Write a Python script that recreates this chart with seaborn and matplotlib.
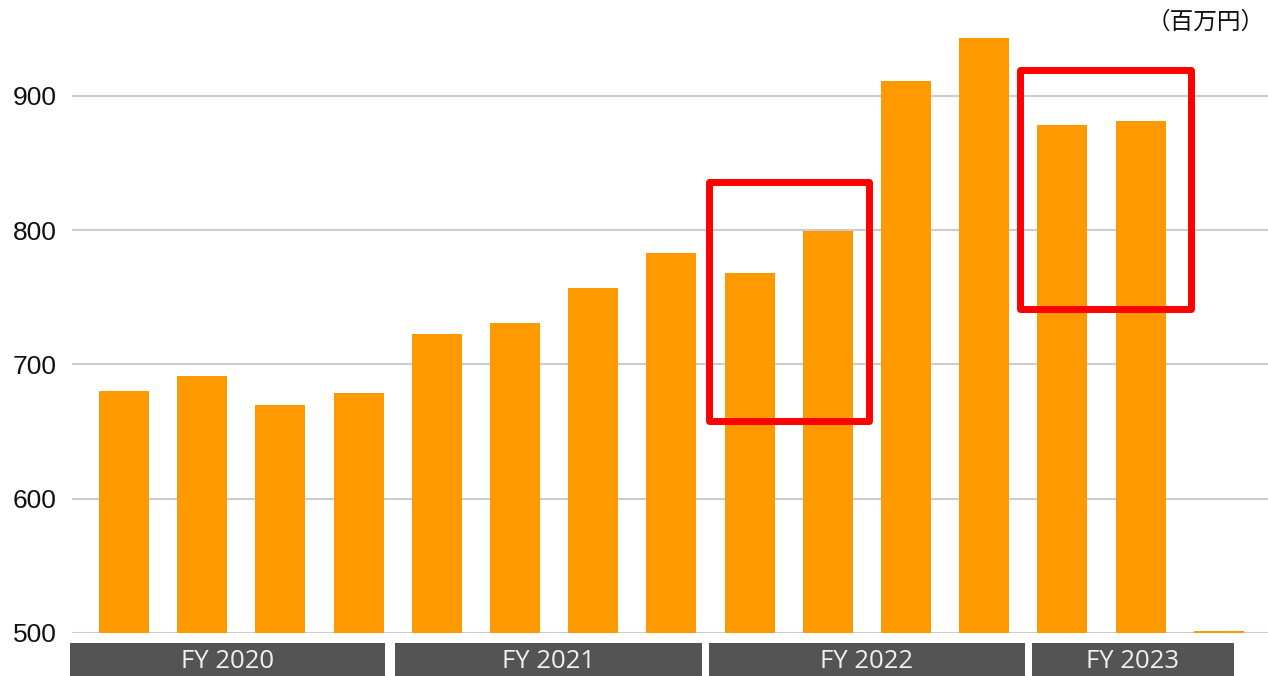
import matplotlib
matplotlib.use("Agg")
import matplotlib.pyplot as plt
import matplotlib.transforms as mtransforms
from matplotlib.patches import Rectangle
import seaborn as sns
import pandas as pd

# ---- data ----
quarters = [f"Q{i}" for i in range(1, 16)]
values = [680, 691, 670, 679, 723, 731, 757, 783, 768, 799, 911, 943, 878, 881, 501.5]
fy_labels = ["FY 2020", "FY 2021", "FY 2022", "FY 2023"]
fy_start = [-0.69, 3.47, 7.48, 11.61]
fy_end = [3.34, 7.39, 11.52, 14.19]
yticks = [500, 600, 700, 800, 900]
# highlight boxes: (x0, x1, y0, y1) in data units
hl_x0 = [7.48, 11.46]
hl_x1 = [9.53, 13.64]
hl_y0 = [658, 741]
hl_y1 = [836, 919]
unit_label = "（百万円）"

sns.set_theme(style="white")
plt.rcParams['font.family'] = ['Liberation Sans', 'Noto Sans CJK JP', 'DejaVu Sans']

fig = plt.figure(figsize=(12.68, 6.76), dpi=100)
ax = fig.add_axes([72/1268, 43/676, 1 - 72/1268, (633 - 3)/676])

df = pd.DataFrame({"q": quarters, "v": values})
sns.barplot(data=df, x="q", y="v", color="#FF9900", saturation=1, width=0.64, ax=ax,
            zorder=3, edgecolor="none", linewidth=0)

ax.set_ylim(500, 500 + 630/1.343)
ax.set_xlim(-0.665, 14.63)
ax.set_yticks(yticks)
ax.set_yticklabels([str(t) for t in yticks], fontsize=19, color="#111111")
ax.tick_params(axis="y", length=0, pad=11)
ax.set_xticks([])
ax.set_xlabel("")
ax.set_ylabel("")
for s in ax.spines.values():
    s.set_visible(False)
for t in yticks:
    ax.axhline(t, color="#cccccc", lw=1.5, zorder=1)

# highlight rectangles
for x0, x1, y0, y1 in zip(hl_x0, hl_x1, hl_y0, hl_y1):
    r = Rectangle((x0, y0), x1 - x0, y1 - y0, fill=False, edgecolor="#FF0000",
                  lw=5, joinstyle="round", zorder=5, clip_on=False)
    ax.add_patch(r)

# FY category boxes below axis
trans = mtransforms.blended_transform_factory(ax.transData, fig.transFigure)
for lab, s, e in zip(fy_labels, fy_start, fy_end):
    r = Rectangle((s, 0), e - s, 33/676, transform=trans, facecolor="#545454",
                  edgecolor="none", clip_on=False, zorder=4)
    fig.add_artist(r)
    t = fig.text((s + e) / 2, 14.5/676, lab, transform=trans, ha="center", va="center",
                 color="#f0f0f0", fontsize=18.5, family=["Open Sans", "DejaVu Sans"])
    t.set_zorder(6)

fig.text(1265/1268, 1 - 22/676, unit_label, ha="right", va="center", fontsize=17,
         color="#111111", family=["Noto Sans CJK JP", "DejaVu Sans"])

fig.savefig("out.png", dpi=100)
